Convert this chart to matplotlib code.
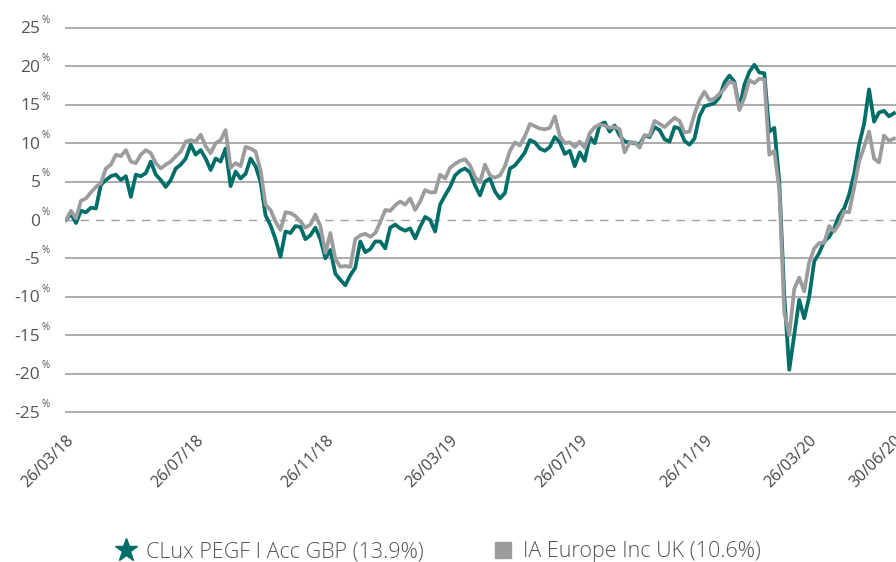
import matplotlib
matplotlib.use("Agg")
import matplotlib.pyplot as plt
from matplotlib.lines import Line2D
import numpy as np

plt.rcParams['font.family'] = ['Open Sans', 'DejaVu Sans']

# cumulative performance (%), one value per observation
fund = [0.0, 0.8, -0.4, 1.2, 1.0, 1.6, 1.5, 4.6, 5.2, 5.7,
        5.9, 5.2, 5.7, 3.0, 5.9, 5.7, 6.1, 7.6, 5.9, 5.2,
        4.3, 5.2, 6.7, 7.2, 8.0, 9.8, 8.5, 9.1, 8.0, 6.5,
        8.0, 7.6, 9.3, 4.4, 6.3, 5.4, 6.0, 8.0, 7.0, 5.0,
        0.6, -0.7, -2.5, -4.8, -1.5, -1.7, -0.8, -0.9, -2.5, -2.0,
        -1.0, -2.5, -5.0, -3.9, -7.0, -7.8, -8.5, -7.2, -6.2, -2.8,
        -4.2, -3.8, -2.8, -2.8, -3.7, -1.0, -0.6, -1.1, -1.4, -1.1,
        -2.4, -0.9, 0.4, 0.0, -1.5, 2.0, 3.2, 4.3, 5.8, 6.4,
        6.7, 6.2, 4.5, 3.2, 5.0, 5.4, 3.7, 2.8, 3.5, 6.7,
        7.1, 7.9, 8.8, 10.4, 10.1, 9.3, 9.0, 9.5, 10.8, 10.1,
        8.6, 9.0, 7.0, 8.8, 7.7, 10.8, 10.0, 12.4, 12.7, 11.5,
        12.3, 11.0, 10.2, 10.1, 10.0, 9.8, 11.0, 10.8, 12.1, 11.7,
        10.5, 10.2, 12.1, 11.9, 10.3, 9.8, 10.6, 13.5, 14.8, 15.0,
        15.2, 16.0, 17.9, 18.8, 18.0, 14.5, 17.6, 19.3, 20.2, 19.2,
        19.1, 11.5, 12.0, 5.0, -9.8, -19.5, -15.0, -10.4, -12.8, -10.0,
        -5.4, -4.3, -2.8, -2.2, -1.1, 0.6, 1.5, 3.3, 6.0, 9.8,
        12.5, 17.0, 12.8, 14.0, 14.2, 13.5, 13.9]

sector = [0.0, 1.2, 0.2, 2.5, 2.8, 3.6, 4.3, 4.8, 6.7, 7.2,
          8.5, 8.3, 9.1, 7.6, 7.4, 8.5, 9.1, 8.7, 7.4, 6.7,
          7.2, 7.6, 8.3, 8.9, 10.2, 10.4, 10.2, 11.1, 9.6, 8.7,
          10.0, 10.4, 11.7, 6.8, 7.4, 7.0, 9.5, 9.3, 8.9, 6.5,
          2.0, 1.3, -0.2, -1.3, 1.0, 0.9, 0.5, -0.2, -1.0, -0.6,
          0.7, -0.8, -4.3, -1.7, -5.1, -6.1, -6.0, -6.1, -2.5, -2.0,
          -1.8, -2.2, -1.7, -0.3, 1.3, 1.2, 1.9, 2.4, 2.0, 2.8,
          1.3, 2.4, 3.9, 3.6, 3.6, 5.9, 5.4, 6.8, 7.3, 7.7,
          7.9, 7.1, 5.6, 4.9, 7.2, 5.8, 5.5, 5.8, 7.0, 9.0,
          10.1, 9.7, 10.9, 12.5, 12.2, 11.9, 11.8, 12.0, 13.5, 10.9,
          10.0, 10.1, 9.5, 10.2, 9.4, 11.3, 12.1, 12.4, 12.3, 12.0,
          12.1, 11.8, 8.8, 10.1, 10.1, 9.4, 11.0, 11.0, 12.9, 12.5,
          12.1, 12.7, 13.3, 12.9, 11.4, 11.5, 13.8, 15.6, 16.7, 15.6,
          15.8, 16.4, 17.1, 18.0, 17.8, 14.3, 15.9, 18.2, 17.8, 18.4,
          18.3, 8.5, 9.0, 4.0, -12.0, -15.0, -9.0, -7.5, -9.3, -5.5,
          -3.7, -3.0, -3.0, -0.8, -1.5, -0.5, 1.1, 1.0, 4.2, 7.6,
          9.5, 11.5, 8.0, 7.5, 11.0, 10.3, 10.6]

date_labels = ['26/03/18', '26/07/18', '26/11/18', '26/03/19',
               '26/07/19', '26/11/19', '26/03/20', '30/06/20']
date_pos = [0, 26, 52, 77, 103, 128, 149, 166]

y_ticks = [25, 20, 15, 10, 5, 0, -5, -10, -15, -20, -25]

legend_labels = ['CLux PEGF I Acc GBP (13.9%)', 'IA Europe Inc UK (10.6%)']

TEAL = '#006E68'
GREY = '#9B9C9E'
TXT = '#555555'

fig = plt.figure(figsize=(8.96, 5.62), dpi=100)
ax = fig.add_axes([65 / 896, 0.2601, 831 / 896, 0.697])

x = np.arange(len(fund))
ax.plot(x, fund, color=TEAL, lw=2.7, solid_joinstyle='round', zorder=3)
ax.plot(x, sector, color=GREY, lw=2.7, solid_joinstyle='round', zorder=3)

for v in y_ticks:
    if v == 0:
        ax.axhline(v, color='#A0A0A0', lw=1.0, ls=(0, (6, 5)), zorder=1)
    else:
        ax.axhline(v, color='#ABABAB', lw=1.4, zorder=1)

ax.set_ylim(-25.5, 25.5)
ax.set_xlim(-0.2, 166.4)
ax.set_yticks([])
for s in ax.spines.values():
    s.set_visible(False)

ytr = ax.get_yaxis_transform()
for v in y_ticks:
    ax.text(-0.0295, v - 0.2, str(v), transform=ytr, ha='right', va='center',
            fontsize=12.5, color=TXT)
    ax.text(-0.0285, v + 1.0, '%', transform=ytr, ha='left', va='center',
            fontsize=7, color=TXT)

ax.set_xticks(date_pos)
ax.set_xticklabels(date_labels, rotation=45, ha='right', va='top',
                   rotation_mode='anchor', fontsize=11.5, color='#454545')
ax.tick_params(axis='x', length=0, pad=12)

handles = [Line2D([], [], color=TEAL, marker='*', ls='none', markersize=17),
           Line2D([], [], color=GREY, marker='s', ls='none', markersize=12)]
leg = fig.legend(handles, legend_labels, loc='center', ncol=2,
                 bbox_to_anchor=(438 / 896, 1 - 552 / 562), frameon=False,
                 prop={'size': 15.5, 'weight': 'light'},
                 columnspacing=3.2, handletextpad=0.4, handlelength=1.0)
for t in leg.get_texts():
    t.set_color(TXT)

fig.savefig('out.png', dpi=100)
